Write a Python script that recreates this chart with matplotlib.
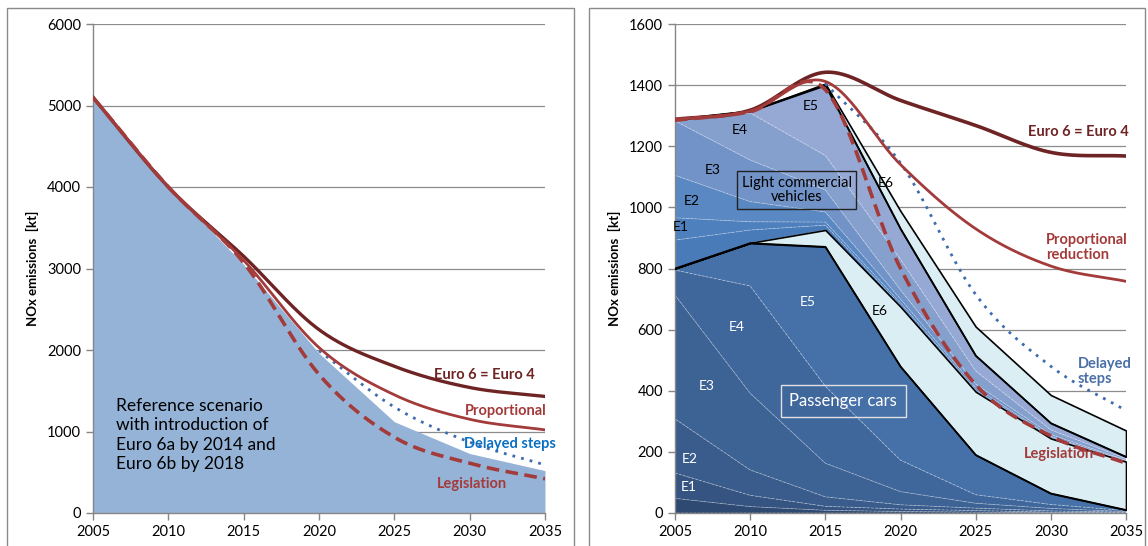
import numpy as np
import matplotlib
matplotlib.use('Agg')
import matplotlib.pyplot as plt
from matplotlib.patches import Rectangle

plt.rcParams['font.family'] = ['Lato', 'DejaVu Sans']

# ---- data ----
years = [2005, 2010, 2015, 2020, 2025, 2030, 2035]

# left panel: all vehicles, scenarios
left_reference = [5100, 4000, 3050, 1960, 1120, 730, 520]
left_euro4 = [5100, 4000, 3150, 2250, 1800, 1540, 1430]
left_proportional = [5100, 4000, 3100, 2030, 1450, 1150, 1020]
left_legislation = [5100, 4000, 3070, 1700, 930, 610, 420]
delay_years = [2020, 2025, 2030, 2035]
left_delayed = [1990, 1300, 870, 590]

# right panel: cumulative stack tops, passenger cars then light commercial vehicles
pc_pre = [48, 21, 9, 5, 3, 1, 0]
pc_e1 = [131, 58, 22, 13, 8, 3, 1]
pc_e2 = [308, 141, 53, 27, 16, 7, 3]
pc_e3 = [713, 392, 163, 70, 32, 15, 5]
pc_e4 = [795, 743, 415, 173, 60, 28, 8]
pc_e5 = [800, 883, 871, 479, 190, 64, 10]
pc_e6 = [800, 884, 926, 675, 397, 244, 168]
lcv_pre = [893, 926, 942, 680, 400, 246, 169]
lcv_e1 = [966, 953, 952, 688, 403, 248, 170]
lcv_e2 = [1105, 1019, 985, 700, 410, 251, 171]
lcv_e3 = [1283, 1155, 1057, 730, 422, 257, 173]
lcv_e4 = [1287, 1309, 1170, 830, 465, 272, 178]
lcv_e5 = [1288, 1315, 1400, 930, 515, 294, 184]
lcv_e6 = [1288, 1316, 1405, 988, 610, 386, 270]

right_euro4 = [1288, 1318, 1442, 1350, 1268, 1180, 1168]
right_proportional = [1288, 1315, 1412, 1140, 930, 808, 758]
right_legislation = [1285, 1313, 1385, 800, 420, 252, 163]
rdelay_years = [2015, 2020, 2025, 2030, 2035]
right_delayed = [1405, 1145, 715, 480, 335]

pc_colors = ['#2F4A72', '#355481', '#3A5C8C', '#3D6294', '#40679C', '#4571A8', '#DAEEF3']
lcv_colors = ['#4A7BB9', '#4F80BE', '#5A88C2', '#7193C7', '#86A0CE', '#96A9D5', '#DAEEF3']

C_DARK = '#6E2424'
C_RED = '#A33B3B'
C_DOT = '#3D6CAE'


def smooth(x, y, n=30):
    # excel-like smoothed line (catmull-rom through the points)
    p = np.column_stack([x, y]).astype(float)
    p = np.vstack([2 * p[0] - p[1], p, 2 * p[-1] - p[-2]])
    out = []
    t = np.linspace(0, 1, n)[:, None]
    for i in range(1, len(p) - 2):
        p0, p1, p2, p3 = p[i - 1], p[i], p[i + 1], p[i + 2]
        seg = 0.5 * ((2 * p1) + (-p0 + p2) * t + (2 * p0 - 5 * p1 + 4 * p2 - p3) * t ** 2
                     + (-p0 + 3 * p1 - 3 * p2 + p3) * t ** 3)
        out.append(seg if i == 1 else seg[1:])
    out = np.vstack(out)
    return out[:, 0], out[:, 1]


def style_axes(ax, ymax, ystep):
    ax.set_xlim(2005, 2035)
    ax.set_ylim(0, ymax)
    ax.set_xticks(range(2005, 2036, 5))
    ax.set_yticks(np.arange(0, ymax + 1, ystep))
    ax.grid(axis='y', color='#8C8C8C', linewidth=0.9)
    ax.set_axisbelow(True)
    for s in ['top', 'right']:
        ax.spines[s].set_visible(False)
    for s in ['left', 'bottom']:
        ax.spines[s].set_color('#868686')
        ax.spines[s].set_linewidth(1.0)
    ax.tick_params(axis='both', colors='#868686', labelcolor='black', labelsize=10.5,
                   length=5, width=1.0)
    ax.set_ylabel('NOx emissions  [kt]', fontsize=9.5, fontweight='bold', labelpad=6)


fig = plt.figure(figsize=(11.48, 5.46), dpi=100)

# chart borders
for x0, x1 in [(7, 574), (589, 1145)]:
    fig.patches.append(Rectangle((x0 / 1148, -0.05), (x1 - x0) / 1148, (546 - 8) / 546 + 0.05,
                                 transform=fig.transFigure, fill=False,
                                 edgecolor='#8A8A8A', linewidth=1.0, zorder=0))

# ---- left panel ----
ax1 = fig.add_axes([93 / 1148, 1 - 513 / 546, (545 - 93) / 1148, (513 - 24) / 546])
style_axes(ax1, 6000, 1000)
ax1.fill_between(years, 0, left_reference, color='#95B3D7', linewidth=0, zorder=2)
ax1.plot(*smooth(years, left_euro4), color=C_DARK, linewidth=2.4, zorder=5)
ax1.plot(*smooth(years, left_proportional), color=C_RED, linewidth=2.0, zorder=5)
ax1.plot(*smooth(delay_years, left_delayed), color=C_DOT, linewidth=2.0,
         linestyle=(0, (1, 2.2)), zorder=4)
ax1.plot(*smooth(years, left_legislation), color=C_RED, linewidth=2.6,
         linestyle=(0, (3.5, 1.8)), zorder=5)

ax1.text(2031.0, 1693, 'Euro 6 = Euro 4', color=C_DARK, fontsize=10.5, fontweight='bold',
         ha='center', va='center')
ax1.text(2032.4, 1251, 'Proportional', color=C_RED, fontsize=10.5, fontweight='bold',
         ha='center', va='center')
ax1.text(2032.7, 846, 'Delayed steps', color='#0B70C2', fontsize=10.5, fontweight='bold',
         ha='center', va='center', zorder=6)
ax1.text(2030.15, 355, 'Legislation', color=C_RED, fontsize=10.5, fontweight='bold',
         ha='center', va='center')
ax1.text(2006.55, 957, 'Reference scenario\nwith introduction of\nEuro 6a by 2014 and\nEuro 6b by 2018',
         fontsize=12.5, ha='left', va='center', linespacing=1.25)

# ---- right panel ----
ax2 = fig.add_axes([675 / 1148, 1 - 513 / 546, (1126 - 675) / 1148, (513 - 24) / 546])
style_axes(ax2, 1600, 200)

pc_tops = [pc_pre, pc_e1, pc_e2, pc_e3, pc_e4, pc_e5, pc_e6]
lcv_tops = [lcv_pre, lcv_e1, lcv_e2, lcv_e3, lcv_e4, lcv_e5, lcv_e6]
bottom = [0] * len(years)
for tops, colors in [(pc_tops, pc_colors), (lcv_tops, lcv_colors)]:
    for i, top in enumerate(tops):
        if i == len(tops) - 1:
            ax2.fill_between(years, bottom, top, facecolor=colors[i], edgecolor='black',
                             linewidth=1.2, zorder=3)
        else:
            ax2.fill_between(years, bottom, top, facecolor=colors[i], edgecolor=(1, 1, 1, 0.35),
                             linewidth=0.6, linestyle=(0, (3, 2)), zorder=2)
        bottom = top
# outlines of the non-Euro-6 stacks
ax2.plot(years, pc_e5, color='black', linewidth=1.2, zorder=3)
ax2.plot(years, lcv_e5, color='black', linewidth=1.2, zorder=3)

ax2.plot(*smooth(years, right_euro4), color=C_DARK, linewidth=2.6, zorder=5)
ax2.plot(*smooth(years, right_proportional), color=C_RED, linewidth=2.0, zorder=5)
ax2.plot(*smooth(rdelay_years, right_delayed), color=C_DOT, linewidth=2.0,
         linestyle=(0, (1, 2.2)), zorder=4)
ax2.plot(*smooth(years, right_legislation), color=C_RED, linewidth=2.6,
         linestyle=(0, (3.5, 1.8)), zorder=5)

pc_labels = [('E1', 2005.9, 85), ('E2', 2005.95, 178), ('E3', 2007.1, 415),
             ('E4', 2009.1, 610), ('E5', 2013.8, 690)]
for s, x, y in pc_labels:
    ax2.text(x, y, s, color='white', fontsize=10, ha='center', va='center', zorder=6)
ax2.text(2018.6, 660, 'E6', color='black', fontsize=10, ha='center', va='center', zorder=6)
lcv_labels = [('E1', 2005.4, 935), ('E2', 2006.1, 1021), ('E3', 2007.5, 1122),
              ('E4', 2009.3, 1253), ('E5', 2014.0, 1332), ('E6', 2019.0, 1080)]
for s, x, y in lcv_labels:
    ax2.text(x, y, s, color='black', fontsize=10, ha='center', va='center', zorder=6)

ax2.text(2013.1, 1057, 'Light commercial\nvehicles', fontsize=10.5, ha='center', va='center',
         linespacing=1.05, zorder=6,
         bbox=dict(boxstyle='square,pad=0.3', facecolor='none', edgecolor='#222222', linewidth=1))
ax2.text(2016.2, 366, 'Passenger cars', fontsize=12, color='white', ha='center', va='center',
         zorder=6,
         bbox=dict(boxstyle='square,pad=0.5', facecolor='none', edgecolor='#E0E0E0', linewidth=1))

ax2.text(2035.2, 1247, 'Euro 6 = Euro 4', color=C_DARK, fontsize=10.5, fontweight='bold',
         ha='right', va='center', zorder=6)
ax2.text(2029.7, 869, 'Proportional\nreduction', color=C_RED, fontsize=10.5, fontweight='bold',
         ha='left', va='center', linespacing=1.15, zorder=6)
ax2.text(2031.8, 463, 'Delayed\nsteps', color='#4A6FA8', fontsize=10.5, fontweight='bold',
         ha='left', va='center', linespacing=1.15, zorder=6)
ax2.text(2030.55, 193, 'Legislation', color=C_RED, fontsize=10.5, fontweight='bold',
         ha='center', va='center', zorder=6)

fig.savefig('out.png', dpi=100)
